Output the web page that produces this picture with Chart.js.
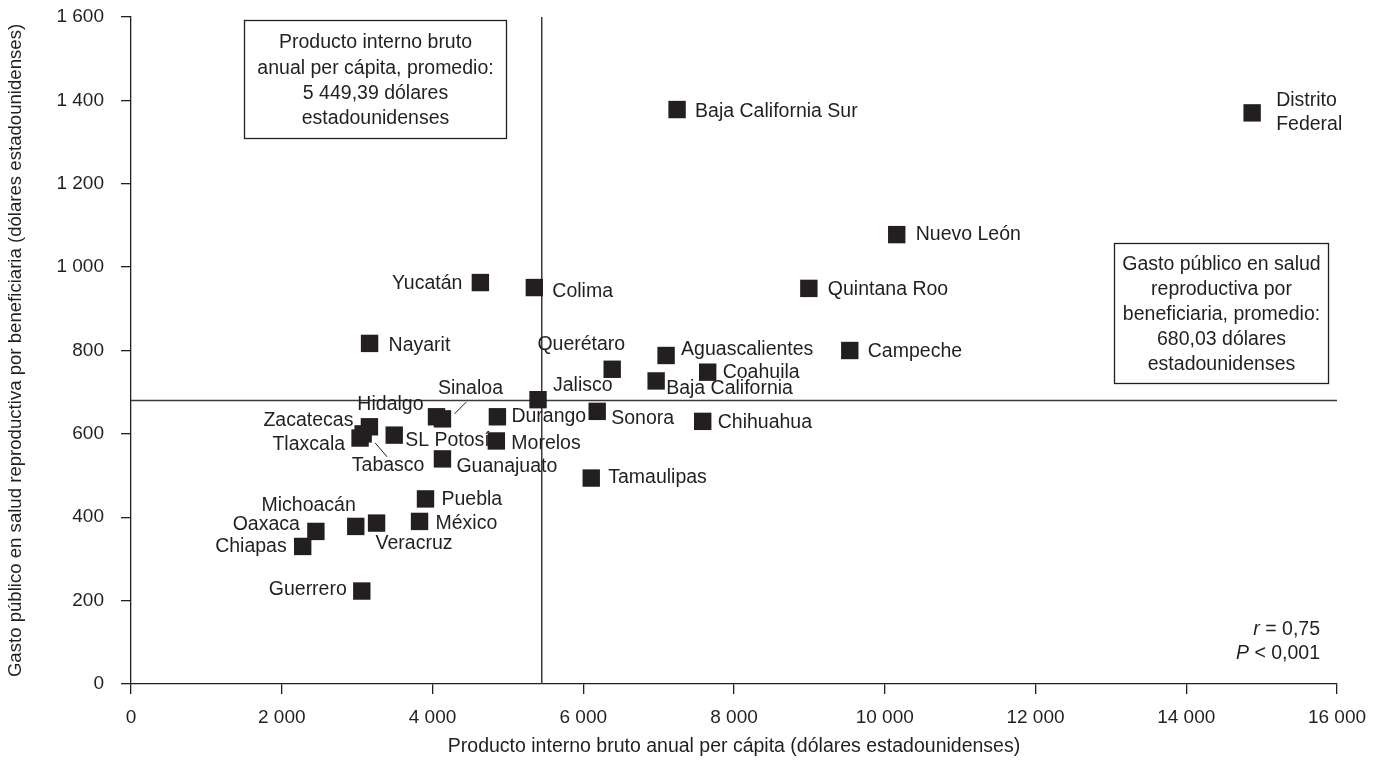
<!DOCTYPE html>
<html><head><meta charset="utf-8">
<script src="https://cdn.jsdelivr.net/npm/chart.js@4.4.0/dist/chart.umd.min.js"></script>
<style>html,body{margin:0;padding:0;background:#fff;}#wrap{width:1381px;height:761px;position:relative;}</style>
</head><body><div id="wrap"><canvas id="c"></canvas></div>
<script>
// ---- data ----
const states = ["Distrito Federal","Baja California Sur","Nuevo León","Quintana Roo","Campeche","Yucatán","Colima","Nayarit","Querétaro","Aguascalientes","Coahuila","Baja California","Jalisco","Sonora","Chihuahua","Tamaulipas","Durango","Morelos","Hidalgo","Sinaloa","SL Potosí","Guanajuato","Zacatecas","Tlaxcala","Tabasco","Puebla","México","Michoacán","Veracruz","Oaxaca","Chiapas","Guerrero"];
const gdpPerCapita = [14874,7245,10159,8993,9536,4635,5351,3165,6384,7099,7651,6967,5400,6185,7585,6106,4861,4847,4053,4132,3492,4132,3163,3039,3080,3907,3828,2982,3258,2453,2278,3062];
const spendingPerBeneficiary = [1370,1378,1078,949,800,963,951,817,755,788,748,727,682,654,630,494,641,583,641,636,597,540,617,590,600,444,390,378,386,366,330,223];
const xTickValues = [0,2000,4000,6000,8000,10000,12000,14000,16000];
const yTickValues = [0,200,400,600,800,1000,1200,1400,1600];
const meanGdp = 5449.39;
const meanSpending = 680.03;
const gdpBoxLines = ["Producto interno bruto","anual per cápita, promedio:","5 449,39 dólares","estadounidenses"];
const spendingBoxLines = ["Gasto público en salud","reproductiva por","beneficiaria, promedio:","680,03 dólares","estadounidenses"];
const statR = ["r", " = 0,75"];
const statP = ["P", " < 0,001"];

// ---- styles ----
const ink = '#231f20';
const FONT = '"Liberation Sans", Arial, Helvetica, sans-serif';
const TXT = 19.5;
const labelPlacement = [
  {dx:24,dy:-12,align:'left',lines:['Distrito','Federal']},
  {dx:18,dy:2,align:'left'},
  {dx:19,dy:0,align:'left'},
  {dx:19,dy:1,align:'left'},
  {dx:18,dy:1,align:'left'},
  {dx:-18,dy:1,align:'right'},
  {dx:18,dy:4,align:'left'},
  {dx:19,dy:2,align:'left'},
  {dx:13,dy:-25,align:'right'},
  {dx:15,dy:-6,align:'left'},
  {dx:15,dy:0,align:'left'},
  {dx:10,dy:8,align:'left'},
  {dx:15,dy:-14,align:'left'},
  {dx:14,dy:7,align:'left'},
  {dx:15,dy:1,align:'left'},
  {dx:17,dy:0,align:'left'},
  {dx:14,dy:0,align:'left'},
  {dx:15,dy:3,align:'left'},
  {dx:-13,dy:-12,align:'right'},
  {dx:28,dy:-30,align:'center',leader:[24,-17,12,-5]},
  {dx:11,dy:5,align:'left'},
  {dx:14,dy:8,align:'left'},
  {dx:-16,dy:-6,align:'right'},
  {dx:-15,dy:7,align:'right'},
  {dx:25,dy:32,align:'center',leader:[12,9,24,23]},
  {dx:16,dy:1,align:'left'},
  {dx:16,dy:2,align:'left'},
  {dx:0,dy:-21,align:'right'},
  {dx:-1,dy:21,align:'left'},
  {dx:-16,dy:-7,align:'right'},
  {dx:-16,dy:0,align:'right'},
  {dx:-15,dy:-1,align:'right'}
];

const fmt = v => String(v).replace(/\B(?=(\d{3})+(?!\d))/g, ' ');

const labelPlugin = {
  id: 'stateLabels',
  afterDatasetsDraw(chart) {
    const ctx = chart.ctx;
    const meta = chart.getDatasetMeta(0);
    ctx.save();
    ctx.font = TXT + 'px ' + FONT;
    ctx.fillStyle = ink;
    ctx.strokeStyle = ink;
    ctx.textBaseline = 'middle';
    meta.data.forEach((pt, i) => {
      const p = labelPlacement[i];
      ctx.textAlign = p.align;
      const lines = p.lines || [states[i]];
      lines.forEach((t, k) => ctx.fillText(t, pt.x + p.dx, pt.y + p.dy + k * 24));
      if (p.leader) {
        ctx.lineWidth = 1;
        ctx.beginPath();
        ctx.moveTo(pt.x + p.leader[0], pt.y + p.leader[1]);
        ctx.lineTo(pt.x + p.leader[2], pt.y + p.leader[3]);
        ctx.stroke();
      }
    });
    const drawBox = (x0, y0, x1, y1, lines, firstY, step) => {
      ctx.fillStyle = '#fff';
      ctx.fillRect(x0, y0, x1 - x0, y1 - y0);
      ctx.lineWidth = 1.3;
      ctx.strokeStyle = ink;
      ctx.strokeRect(x0, y0, x1 - x0, y1 - y0);
      ctx.fillStyle = ink;
      ctx.textAlign = 'center';
      lines.forEach((t, k) => ctx.fillText(t, (x0 + x1) / 2, firstY + k * step));
    };
    drawBox(244.5, 20.5, 506.5, 138.5, gdpBoxLines, 43, 25.3);
    drawBox(1114.5, 243.5, 1328.5, 383.5, spendingBoxLines, 265, 25);
    const drawStat = (parts, xr, y) => {
      ctx.textAlign = 'right';
      ctx.font = TXT + 'px ' + FONT;
      ctx.fillText(parts[1], xr, y);
      const w = ctx.measureText(parts[1]).width;
      ctx.font = 'italic ' + TXT + 'px ' + FONT;
      ctx.fillText(parts[0], xr - w, y);
    };
    drawStat(statR, 1320, 630);
    drawStat(statP, 1320, 654);
    ctx.restore();
  }
};

const markerData = gdpPerCapita.map((x, i) => ({x, y: spendingPerBeneficiary[i]}));

new Chart(document.getElementById('c'), {
  type: 'scatter',
  data: {
    datasets: [
      {data: markerData, pointStyle: 'rect', pointRadius: 12.3, pointHoverRadius: 12.3,
       backgroundColor: ink, borderWidth: 0, order: 0},
      {data: [{x: meanGdp, y: yTickValues[0]}, {x: meanGdp, y: yTickValues[yTickValues.length-1]}],
       showLine: true, pointRadius: 0, borderColor: '#3a3a3a', borderWidth: 1.5, order: 1, clip: false},
      {data: [{x: xTickValues[0], y: meanSpending}, {x: xTickValues[xTickValues.length-1], y: meanSpending}],
       showLine: true, pointRadius: 0, borderColor: '#3a3a3a', borderWidth: 1.5, order: 2, clip: false}
    ]
  },
  options: {
    responsive: true, maintainAspectRatio: false, animation: false, devicePixelRatio: 1,
    layout: {padding: {left: 0, top: 17, right: 44, bottom: 0}},
    plugins: {legend: {display: false}, tooltip: {enabled: false}},
    events: [],
    scales: {
      x: {
        type: 'linear', min: xTickValues[0], max: xTickValues[xTickValues.length-1],
        afterBuildTicks: s => { s.ticks = xTickValues.map(v => ({value: v})); },
        afterFit: s => { s.height = 77; s.paddingLeft = 0; s.paddingRight = 0; },
        grid: {display: true, drawOnChartArea: false, drawTicks: true, tickLength: 10, color: ink, lineWidth: 1.3},
        border: {display: true, color: ink, width: 1.3},
        ticks: {color: ink, font: {family: FONT, size: 19}, padding: 12, maxRotation: 0, callback: v => fmt(v)},
        title: {display: true, text: 'Producto interno bruto anual per cápita (dólares estadounidenses)', color: ink,
                font: {family: FONT, size: 19.5}, padding: {top: 0, bottom: 3}}
      },
      y: {
        type: 'linear', min: yTickValues[0], max: yTickValues[yTickValues.length-1],
        afterBuildTicks: s => { s.ticks = yTickValues.map(v => ({value: v})); },
        afterFit: s => { s.width = 131; s.paddingTop = 0; s.paddingBottom = 0; },
        grid: {display: true, drawOnChartArea: false, drawTicks: true, tickLength: 10, color: ink, lineWidth: 1.3},
        border: {display: true, color: ink, width: 1.3},
        ticks: {color: ink, font: {family: FONT, size: 19}, padding: 17, callback: v => fmt(v)},
        title: {display: true, text: 'Gasto público en salud reproductiva por beneficiaria (dólares estadounidenses)', color: ink,
                font: {family: FONT, size: 18.6}, padding: {top: 5, bottom: 0}}
      }
    }
  },
  plugins: [labelPlugin]
});
</script></body></html>
